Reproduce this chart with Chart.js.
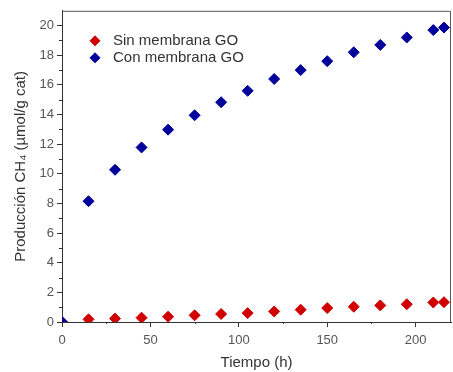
<!DOCTYPE html>
<html>
<head>
<meta charset="utf-8">
<script src="https://cdn.jsdelivr.net/npm/chart.js@4/dist/chart.umd.min.js"></script>
<style>
  html, body { margin: 0; padding: 0; background: #fff; }
  #wrap { width: 453px; height: 372px; }
</style>
</head>
<body>
<div id="wrap"><canvas id="ch4Chart" width="453" height="372"></canvas></div>
<script>
const tiempo = [0, 15, 30, 45, 60, 75, 90, 105, 120, 135, 150, 165, 180, 195, 210, 216];
const sinMembrana = [0, 0.18, 0.23, 0.29, 0.36, 0.45, 0.54, 0.6, 0.71, 0.83, 0.94, 1.03, 1.12, 1.2, 1.32, 1.34];
const conMembrana = [0, 8.15, 10.27, 11.78, 12.98, 13.95, 14.83, 15.6, 16.4, 17.0, 17.6, 18.2, 18.7, 19.2, 19.7, 19.87];
const seriesNames = ['Sin membrana GO', 'Con membrana GO'];

const FONT = "'Liberation Sans', Arial, sans-serif";

function toPoints(values) {
    return tiempo.map((t, i) => ({ x: t, y: values[i] }));
}

// box around the plot plus small minor ticks
const framePlugin = {
    id: 'frame',
    afterDraw(chart) {
        const { ctx, chartArea: a, scales } = chart;
        ctx.save();
        ctx.strokeStyle = '#555';
        ctx.lineWidth = 1;
        ctx.beginPath();
        ctx.moveTo(a.left, a.top + 0.5);
        ctx.lineTo(a.right - 0.5, a.top + 0.5);
        ctx.lineTo(a.right - 0.5, a.bottom);
        ctx.stroke();

        ctx.strokeStyle = '#333';
        ctx.beginPath();
        for (let v = 1; v < 21; v += 2) {
            const y = Math.round(scales.y.getPixelForValue(v)) + 0.5;
            ctx.moveTo(a.left - 3, y);
            ctx.lineTo(a.left, y);
        }
        for (let v = 25; v < 220; v += 50) {
            const x = Math.round(scales.x.getPixelForValue(v)) + 0.5;
            ctx.moveTo(x, a.bottom);
            ctx.lineTo(x, a.bottom + 2);
        }
        ctx.stroke();
        ctx.restore();
    }
};

// legend inside the plot, top-left
const insideLegend = {
    id: 'insideLegend',
    afterDatasetsDraw(chart) {
        const { ctx, chartArea: a } = chart;
        ctx.save();
        ctx.font = '15px ' + FONT;
        ctx.textBaseline = 'middle';
        chart.data.datasets.forEach((ds, i) => {
            const y = a.top + 30 + i * 17;
            const x = a.left + 33;
            ctx.fillStyle = ds.backgroundColor;
            ctx.strokeStyle = ds.borderColor;
            ctx.lineWidth = 1;
            Chart.helpers.drawPoint(ctx, { pointStyle: 'rectRot', radius: 5, borderWidth: 1 }, x, y);
            ctx.fillStyle = '#333';
            ctx.fillText(ds.label, x + 18, y);
        });
        ctx.restore();
    }
};

const ctx = document.getElementById('ch4Chart').getContext('2d');
const chart = new Chart(ctx, {
    type: 'scatter',
    data: {
        datasets: [{
            label: seriesNames[0],
            data: toPoints(sinMembrana),
            backgroundColor: '#d00000',
            borderColor: '#d00000',
            pointStyle: 'rectRot',
            pointRadius: 5.5,
            pointBorderWidth: 1,
            order: 2
        }, {
            label: seriesNames[1],
            data: toPoints(conMembrana),
            backgroundColor: '#00009a',
            borderColor: '#00009a',
            pointStyle: 'rectRot',
            pointRadius: 5.5,
            pointBorderWidth: 1,
            order: 1
        }]
    },
    options: {
        responsive: false,
        animation: false,
        layout: { autoPadding: false, padding: { top: 8, right: 2, left: 0, bottom: 0 } },
        plugins: {
            legend: { display: false },
            tooltip: { enabled: false }
        },
        scales: {
            x: {
                type: 'linear',
                min: 0,
                max: 220,
                afterFit: (s) => { s.height = 50; s.paddingLeft = 0; s.paddingRight = 0; },
                ticks: {
                    stepSize: 50,
                    includeBounds: false,
                    color: '#555',
                    padding: 6,
                    maxRotation: 0,
                    font: { family: FONT, size: 13 }
                },
                grid: { display: true, drawOnChartArea: false, tickLength: 5, color: '#333' },
                border: { color: '#333' },
                title: {
                    display: true,
                    text: 'Tiempo (h)',
                    color: '#333',
                    font: { family: FONT, size: 15 },
                    padding: 0
                }
            },
            y: {
                min: 0,
                max: 21,
                afterFit: (s) => { s.width = 62; },
                ticks: {
                    stepSize: 2,
                    includeBounds: false,
                    color: '#555',
                    padding: 3,
                    font: { family: FONT, size: 13 }
                },
                grid: { display: true, drawOnChartArea: false, tickLength: 5, color: '#333' },
                border: { color: '#333' },
                title: {
                    display: true,
                    text: 'Producción CH₄ (µmol/g cat)',
                    color: '#333',
                    font: { family: FONT, size: 15 },
                    padding: { top: 12, bottom: 0 }
                }
            }
        }
    },
    plugins: [framePlugin, insideLegend]
});
</script>
</body>
</html>
